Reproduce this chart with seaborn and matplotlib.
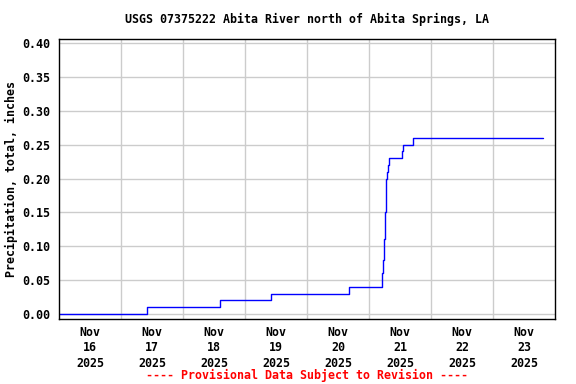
# USGS precipitation step chart, Abita River
import pandas as pd
import matplotlib
matplotlib.use("Agg")
import matplotlib.pyplot as plt
import seaborn as sns

# readings (time of change, cumulative total in inches)
times = [
    "2025-11-16 00:00", "2025-11-17 10:00", "2025-11-18 14:10", "2025-11-19 10:05",
    "2025-11-20 16:20", "2025-11-21 05:10", "2025-11-21 05:30", "2025-11-21 05:55",
    "2025-11-21 06:20", "2025-11-21 06:40", "2025-11-21 07:05", "2025-11-21 07:30",
    "2025-11-21 07:55", "2025-11-21 12:55", "2025-11-21 13:15", "2025-11-21 17:10",
    "2025-11-23 19:20",
]
precip = [0.00, 0.01, 0.02, 0.03, 0.04, 0.06, 0.08, 0.11,
          0.15, 0.20, 0.21, 0.22, 0.23, 0.24, 0.25, 0.26, 0.26]

day_labels = ["Nov\n16\n2025", "Nov\n17\n2025", "Nov\n18\n2025", "Nov\n19\n2025",
              "Nov\n20\n2025", "Nov\n21\n2025", "Nov\n22\n2025", "Nov\n23\n2025"]
y_ticks = [0.00, 0.05, 0.10, 0.15, 0.20, 0.25, 0.30, 0.35, 0.40]

df = pd.DataFrame({"time": pd.to_datetime(times), "precip": precip})

sns.set_style("white")
plt.rcParams["font.family"] = ["DejaVu Sans Mono"]
plt.rcParams["font.weight"] = "bold"
for key in ["text.color", "axes.labelcolor", "xtick.color", "ytick.color"]:
    plt.rcParams[key] = "black"

fig = plt.figure(figsize=(5.76, 3.84), dpi=100)
ax = fig.add_axes([59 / 576, 65 / 384, 496 / 576, 280 / 384])

sns.lineplot(data=df, x="time", y="precip", ax=ax, color="#0000ff",
             linewidth=1.0, drawstyle="steps-post", estimator=None)

start = pd.Timestamp("2025-11-16")
ax.set_xlim(start, start + pd.Timedelta(days=8))
ax.set_ylim(-0.0074, 0.406)

# gridlines at midnight, labels at noon
midnights = [start + pd.Timedelta(days=i) for i in range(1, 8)]
noons = [start + pd.Timedelta(days=i, hours=12) for i in range(8)]
ax.set_xticks(midnights)
ax.set_xticklabels([])
ax.set_xticks(noons, minor=True)
ax.set_xticklabels(day_labels, minor=True, fontsize=8.4, fontweight="bold",
                   linespacing=1.25)
ax.tick_params(axis="x", which="both", length=0, pad=5)

ax.set_yticks(y_ticks)
ax.set_yticklabels([f"{v:.2f}" for v in y_ticks], fontsize=8.4, fontweight="bold")
ax.tick_params(axis="y", length=0, pad=6)

ax.grid(True, which="major", color="#cccccc", linewidth=1.0)
ax.set_axisbelow(True)
for s in ax.spines.values():
    s.set_color("black")
    s.set_linewidth(1.0)

ax.set_xlabel("")
ax.set_ylabel("Precipitation, total, inches", fontsize=8.4, fontweight="bold",
              va="center")
ax.yaxis.set_label_coords(-0.095, 0.5)

fig.text(307 / 576, 1 - 19 / 384, "USGS 07375222 Abita River north of Abita Springs, LA",
         ha="center", va="center", fontsize=8.4, fontweight="bold")
fig.text(307 / 576, 1 - 375 / 384, "---- Provisional Data Subject to Revision ----",
         ha="center", va="center", fontsize=8.4, fontweight="bold", color="red")

fig.savefig("out.png", dpi=100)
